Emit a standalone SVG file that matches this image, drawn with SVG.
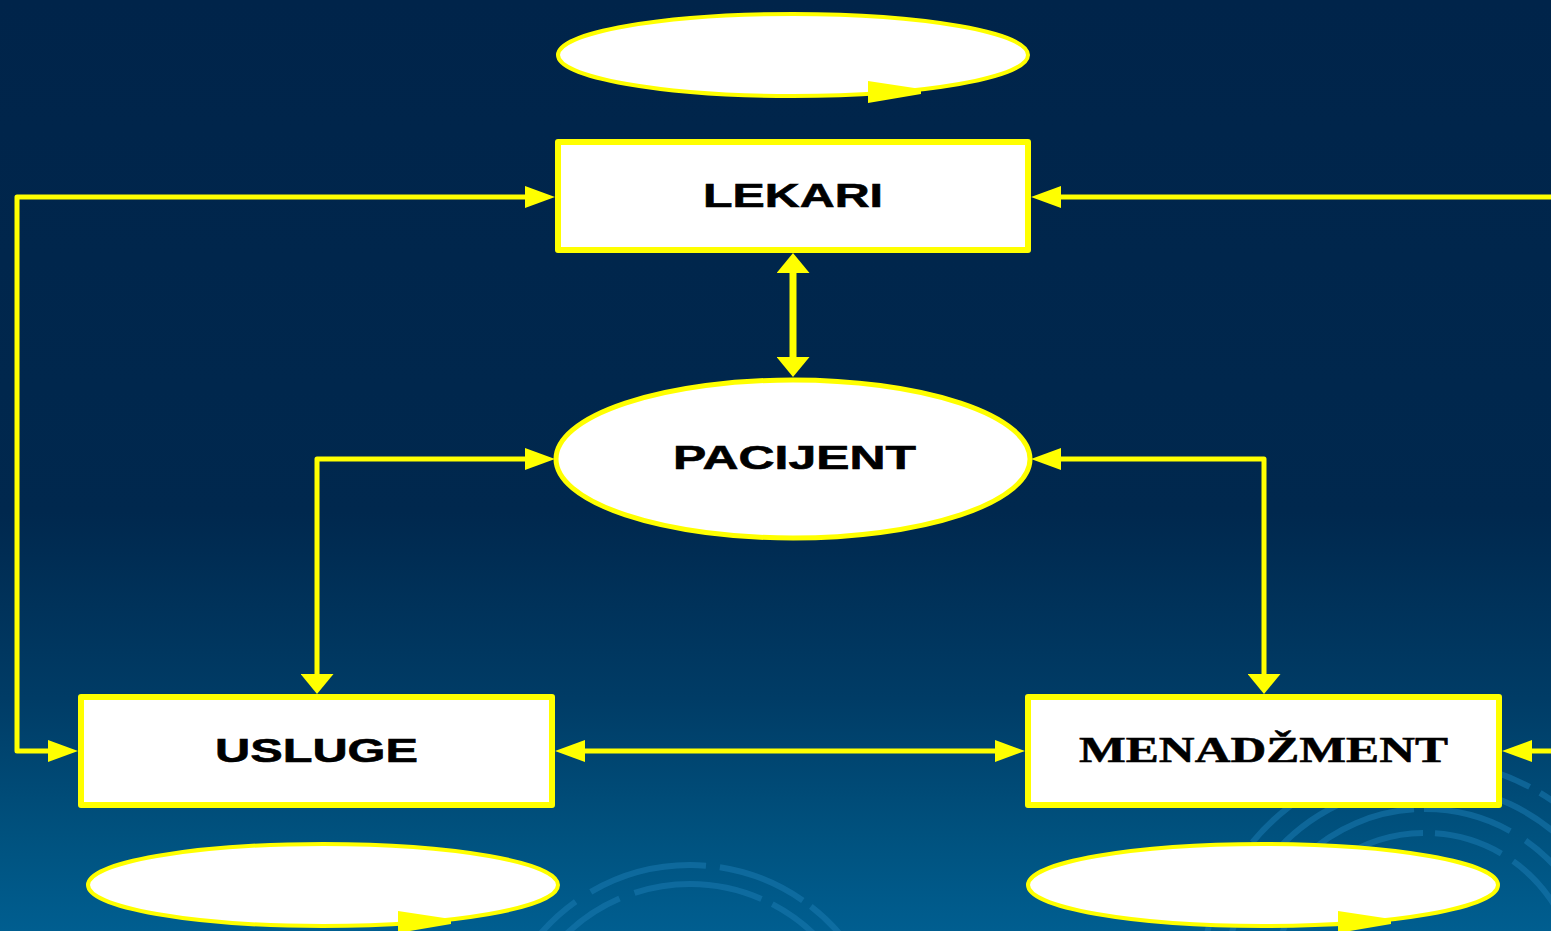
<svg xmlns="http://www.w3.org/2000/svg" width="1551" height="931" viewBox="0 0 1551 931">
<defs>
<linearGradient id="bg" x1="0" y1="0" x2="0" y2="1">
<stop offset="0" stop-color="#00244a"/>
<stop offset="0.55" stop-color="#00284e"/>
<stop offset="0.75" stop-color="#003c66"/>
<stop offset="0.9" stop-color="#00527f"/>
<stop offset="1" stop-color="#005e90"/>
</linearGradient>
<marker id="ah" viewBox="0 0 30 22" refX="0" refY="11" markerWidth="30" markerHeight="22" markerUnits="userSpaceOnUse" orient="auto-start-reverse">
<path d="M0,0 L30,11 L0,22 z" fill="#ffff00"/>
</marker>
<marker id="av" viewBox="0 0 20 33" refX="0" refY="16.5" markerWidth="20" markerHeight="33" markerUnits="userSpaceOnUse" orient="auto-start-reverse">
<path d="M0,0 L20,16.5 L0,33 z" fill="#ffff00"/>
</marker>
<polygon id="loopHead" points="75,26 128,34 128,39 75,48" fill="#ffff00"/>
</defs>
<style>
.box{fill:#ffffff;stroke:#ffff00;stroke-width:6;stroke-linejoin:round}
.ell{fill:#ffffff;stroke:#ffff00;stroke-width:5}
.loop{fill:#ffffff;stroke:#ffff00;stroke-width:4}
.con{fill:none;stroke:#ffff00;stroke-width:5;stroke-linejoin:round}
.sans{font-family:"Liberation Sans",Arial,sans-serif;font-weight:bold;font-size:34px;fill:#000000;stroke:#000000;stroke-width:0.6}
.serif{font-family:"Liberation Serif","Times New Roman",serif;font-weight:bold;font-size:35px;fill:#000000;stroke:#000000;stroke-width:0.5}
.swirl{fill:none;stroke:#1a7ab0;stroke-width:6;opacity:0.55}
</style>
<rect x="0" y="0" width="1551" height="931" fill="url(#bg)"/>
<g id="background-swirls">
<circle class="swirl" cx="690" cy="1062" r="197" stroke-dasharray="120 14 90 10 160 18"/>
<circle class="swirl" cx="690" cy="1062" r="178" stroke-dasharray="70 16 130 12 100 20"/>
<circle class="swirl" cx="1425" cy="985" r="200" stroke-dasharray="110 14 80 12 140 16"/>
<circle class="swirl" cx="1425" cy="985" r="176" stroke-dasharray="60 14 120 10 90 18"/>
<circle class="swirl" cx="1425" cy="985" r="152" stroke-dasharray="90 12 70 14 110 16"/>
<circle class="swirl" cx="1425" cy="985" r="224" stroke-dasharray="50 20 140 12 80 16"/>
</g>
<g id="connectors">
<path class="con" d="M48,751 L17,751 L17,197 L525,197" marker-start="url(#ah)" marker-end="url(#ah)"/>
<path class="con" d="M1551,197 L1061,197" marker-end="url(#ah)"/>
<path class="con" d="M793,273 L793,357" style="stroke-width:7" marker-start="url(#av)" marker-end="url(#av)"/>
<path class="con" d="M317,674 L317,459 L525,459" marker-start="url(#av)" marker-end="url(#ah)"/>
<path class="con" d="M1061,459 L1264,459 L1264,674" marker-start="url(#ah)" marker-end="url(#av)"/>
<path class="con" d="M585,751 L995,751" marker-start="url(#ah)" marker-end="url(#ah)"/>
<path class="con" d="M1551,751 L1532,751" marker-end="url(#ah)"/>
</g>
<g id="loop-top">
<ellipse class="loop" cx="793" cy="55" rx="235" ry="41"/>
<use href="#loopHead" x="793" y="55"/>
</g>
<g id="lekari">
<rect class="box" x="558" y="142" width="470" height="108"/>
<text class="sans" x="703" y="207" textLength="180" lengthAdjust="spacingAndGlyphs">LEKARI</text>
</g>
<g id="pacijent">
<ellipse class="ell" cx="793" cy="459" rx="237" ry="79"/>
<text class="sans" x="673" y="469" textLength="243" lengthAdjust="spacingAndGlyphs">PACIJENT</text>
</g>
<g id="usluge">
<rect class="box" x="81" y="697" width="471" height="108"/>
<text class="sans" x="215" y="762" textLength="203" lengthAdjust="spacingAndGlyphs">USLUGE</text>
</g>
<g id="menadzment">
<rect class="box" x="1028" y="697" width="471" height="108"/>
<text class="serif" x="1079" y="762" textLength="369" lengthAdjust="spacingAndGlyphs">MENADŽMENT</text>
</g>
<g id="loop-usluge">
<ellipse class="loop" cx="323" cy="885" rx="235" ry="41"/>
<use href="#loopHead" x="323" y="885"/>
</g>
<g id="loop-menadzment">
<ellipse class="loop" cx="1263" cy="885" rx="235" ry="41"/>
<use href="#loopHead" x="1263" y="885"/>
</g>
</svg>
